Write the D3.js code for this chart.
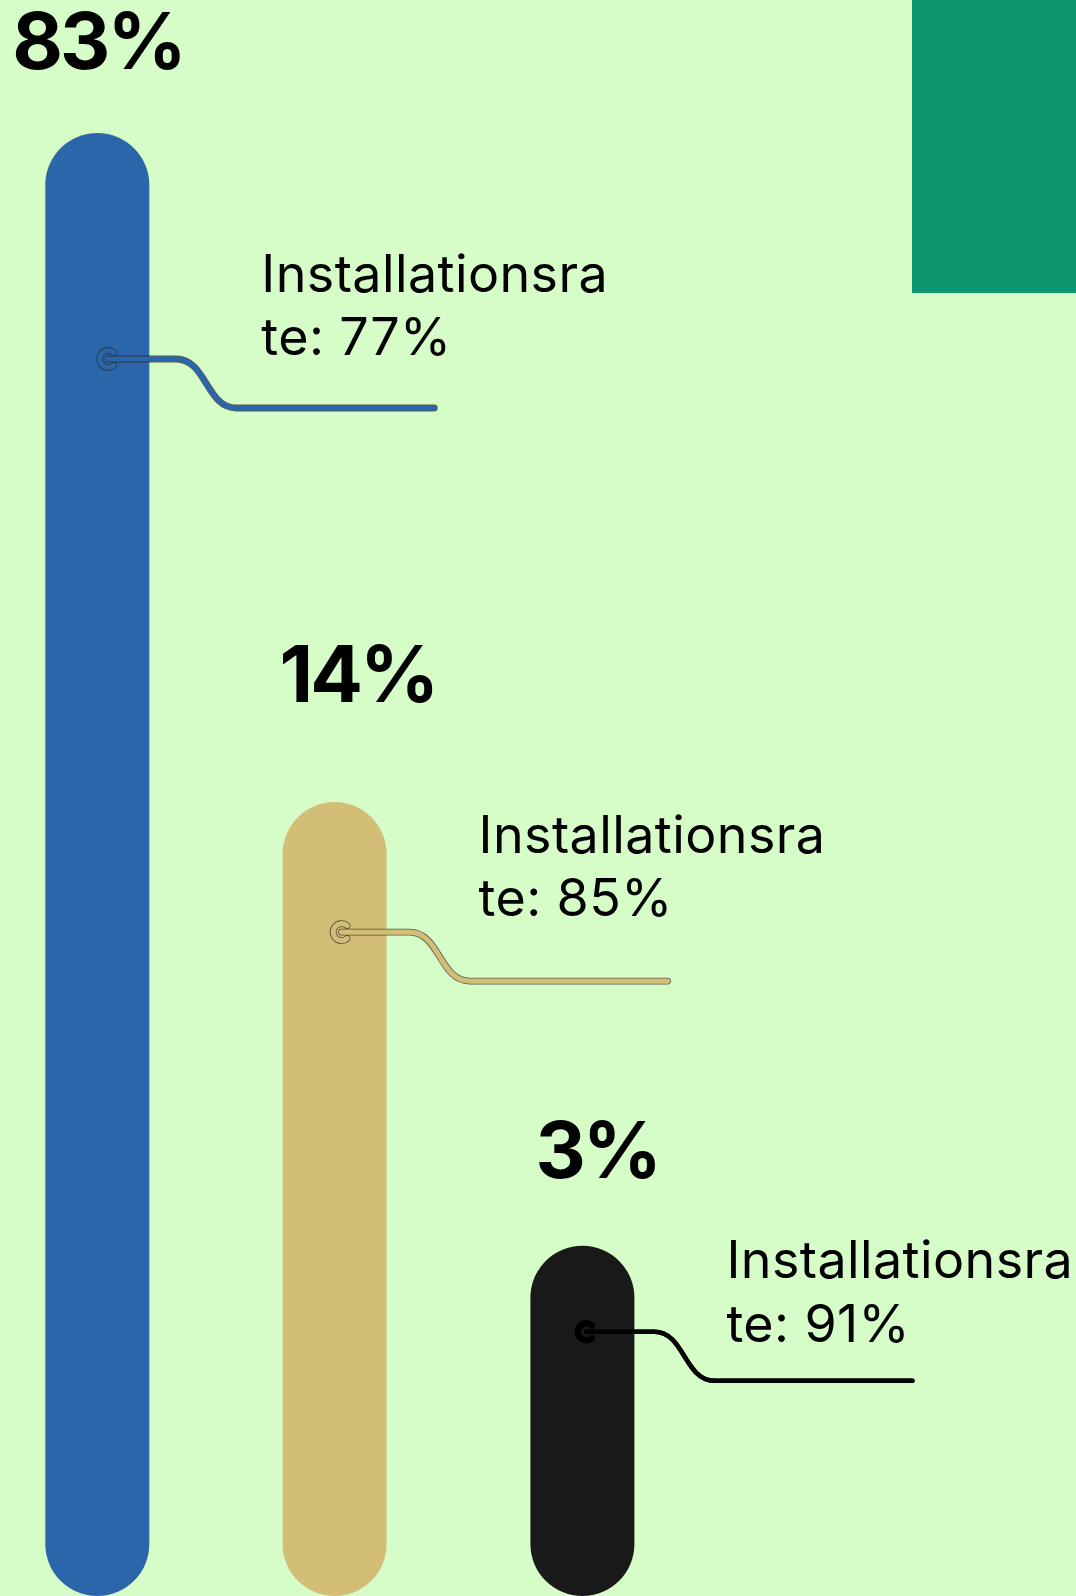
<!DOCTYPE html>
<html>
<head>
<meta charset="utf-8">
<script src="https://cdn.jsdelivr.net/npm/d3@7"></script>
<style>
  html, body { margin: 0; padding: 0; background: #d6fcc8; }
  svg { display: block; }
  text { font-family: Inter, "Noto Sans", sans-serif; }
</style>
</head>
<body>
<svg id="chart" width="1076" height="1596"></svg>
<script>
// ---- data ----
const categories = ["A", "B", "C"];
const shares = [83, 14, 3];               // big bold value labels
const installRates = [77, 85, 91];        // annotation values
const annotationPrefix = "Installationsra";
const annotationSuffix = "te: ";
const colors = ["#2b66ab", "#d3be78", "#191919"];

// ---- layout (offsets relative to each bar's centre / top) ----
const W = 1076, H = 1596;
const barWidth = 104;
const valueLabelOffset = [[-85, -64], [-55, -100], [-47, -68]];
const anchorOffset = [[11, 226], [7, 130], [4, 86]];
const textOffset = [[153, -67.5], [137, -79.5], [140, -53.5]];

const svg = d3.select("#chart");
svg.append("rect").attr("width", W).attr("height", H).attr("fill", "#d6fcc8");
// decorative block top-right
svg.append("rect").attr("x", 912).attr("y", 0).attr("width", W - 912).attr("height", 293).attr("fill", "#0d976e");

const x = d3.scaleLinear().domain([0, 1, 2]).range([97.3, 334.6, 582.4]);
const y = d3.scalePow().exponent(0.16).domain([0, 83]).range([2833, 133]);

const rows = categories.map((c, i) => ({
  c, i, v: shares[i], rate: installRates[i], color: colors[i]
}));

// bars
svg.selectAll("rect.bar").data(rows).join("rect")
  .attr("class", "bar")
  .attr("x", d => x(d.i) - barWidth / 2)
  .attr("y", d => y(d.v))
  .attr("width", barWidth)
  .attr("height", d => H - y(d.v))
  .attr("rx", barWidth / 2)
  .attr("fill", d => d.color);

// value labels
svg.selectAll("text.val").data(rows).join("text")
  .attr("class", "val")
  .attr("x", d => x(d.i) + valueLabelOffset[d.i][0])
  .attr("y", d => y(d.v) + valueLabelOffset[d.i][1])
  .attr("font-size", 78)
  .attr("font-weight", 700)
  .attr("letter-spacing", -3)
  .attr("fill", "#000")
  .text(d => d.v + "%");

// connectors
const link = d3.linkHorizontal();
rows.forEach(d => {
  const cx = x(d.i) + anchorOffset[d.i][0];
  const cy = y(d.v) + anchorOffset[d.i][1];
  const g = svg.append("g");
  const r = 8.5;
  const a0 = 50 * Math.PI / 180;
  const ring = `M${cx + r * Math.cos(a0)},${cy - r * Math.sin(a0)} A${r},${r} 0 1 0 ${cx + r * Math.cos(a0)},${cy + r * Math.sin(a0)}`;
  const line = `M${cx},${cy} H${cx + 68}` +
    link({ source: [cx + 68, cy], target: [cx + 128, cy + 49] }).replace(/^M[^C]*/, "") +
    ` H${cx + 326}`;
  const outline = d.i === 2 ? "#000" : "rgba(40,40,40,0.75)";
  const stroke = d.i === 2 ? "#000" : d.color;
  [ring, line].forEach((p, k) => {
    g.append("path").attr("d", p).attr("fill", "none")
      .attr("stroke", outline).attr("stroke-width", d.i === 2 ? (k === 0 ? 6 : 4.5) : 6.8)
      .attr("stroke-linecap", "round");
  });
  [ring, line].forEach((p, k) => {
    g.append("path").attr("d", p).attr("fill", "none")
      .attr("stroke", stroke).attr("stroke-width", d.i === 2 ? (k === 0 ? 6 : 4.5) : 5.2)
      .attr("stroke-linecap", "round");
  });
  const tx = cx + textOffset[d.i][0];
  const t = svg.append("text")
    .attr("x", tx)
    .attr("y", cy + textOffset[d.i][1])
    .attr("font-size", 52)
    .attr("letter-spacing", 0.4)
    .attr("fill", "#000");
  t.append("tspan").attr("x", tx).text(annotationPrefix);
  t.append("tspan").attr("x", tx).attr("dy", 63.5).text(annotationSuffix + d.rate + "%");
});
</script>
</body>
</html>
